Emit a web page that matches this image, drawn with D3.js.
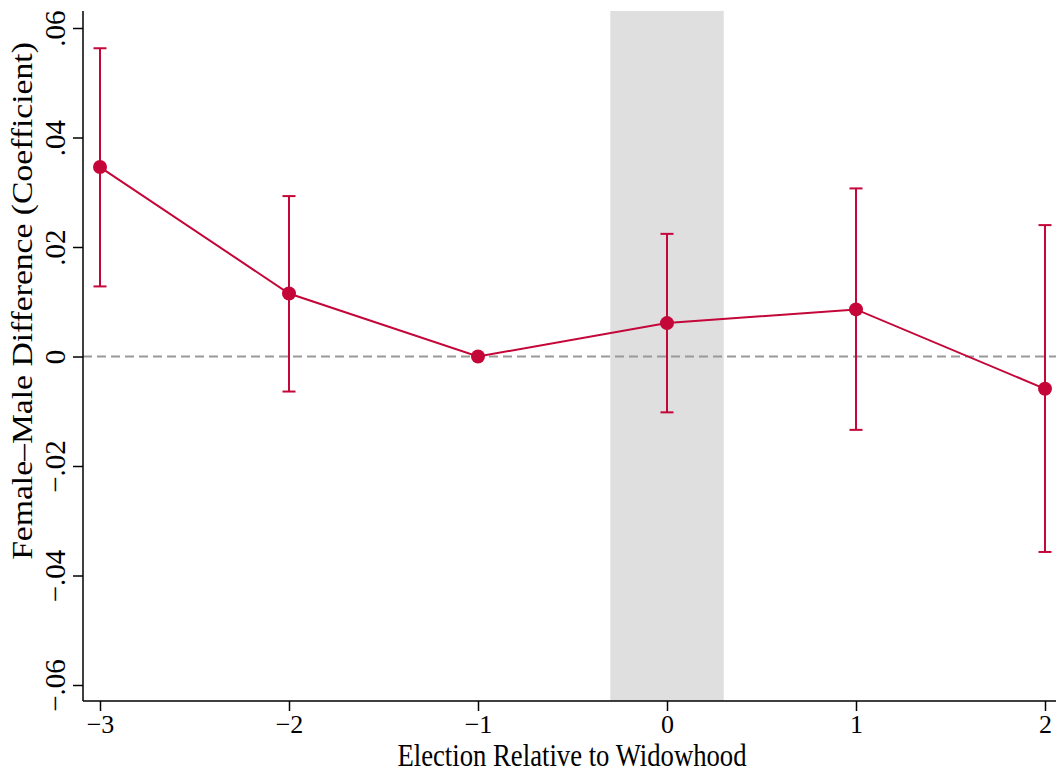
<!DOCTYPE html>
<html>
<head>
<meta charset="utf-8">
<script src="https://cdn.jsdelivr.net/npm/d3@7"></script>
<style>
  html, body { margin: 0; padding: 0; background: #fff; }
  svg { display: block; font-family: "Liberation Serif", "Times New Roman", serif; }
</style>
</head>
<body>
<svg id="chart" width="1056" height="774"></svg>
<script>
// Event-study estimates: election relative to widowhood
const periods   = [-3, -2, -1, 0, 1, 2];
const coef      = [0.0346, 0.0115, 0.0, 0.0061, 0.0086, -0.0059];
const ciLow     = [0.0128, -0.0064, null, -0.0102, -0.0134, -0.0357];
const ciHigh    = [0.0563, 0.0293, null, 0.0224, 0.0307, 0.0240];
const xTicks    = [-3, -2, -1, 0, 1, 2];
const yTicks    = [-0.06, -0.04, -0.02, 0, 0.02, 0.04, 0.06];
const band      = [-0.3, 0.3];

const svg = d3.select("#chart");
const red = "#c40638";

const plot = { left: 83, right: 1056, top: 11, bottom: 701 };
const x = d3.scaleLinear().domain([-3, 2]).range([100, 1045]);
const y = d3.scaleLinear().domain([-0.06, 0.06]).range([685, 28]);

const fmtY = v => {
  if (v === 0) return "0";
  const s = d3.format(".2f")(Math.abs(v)).replace(/^0/, "");
  return (v < 0 ? "\u2212" : "") + s;
};
const fmtX = v => (v < 0 ? "\u2212" : "") + Math.abs(v);

// shaded widowhood window
svg.append("rect")
  .attr("x", x(band[0])).attr("y", plot.top)
  .attr("width", x(band[1]) - x(band[0]))
  .attr("height", plot.bottom - plot.top)
  .attr("fill", "#dfdfdf");

// reference line at zero
svg.append("line")
  .attr("x1", plot.left).attr("x2", plot.right)
  .attr("y1", y(0)).attr("y2", y(0))
  .attr("stroke", "#999").attr("stroke-width", 2)
  .attr("stroke-dasharray", "9,5");

// axes
const xAxis = d3.axisBottom(x).tickValues(xTicks).tickFormat(fmtX).tickSize(10).tickPadding(4);
const gx = svg.append("g").attr("transform", `translate(0,${plot.bottom})`).call(xAxis);
gx.select(".domain").remove();
gx.append("line").attr("x1", plot.left).attr("x2", plot.right).attr("stroke", "#000").attr("stroke-width", 1.5);
gx.selectAll(".tick line").attr("stroke", "#000").attr("stroke-width", 1.5);
gx.selectAll(".tick text").attr("font-size", 26).attr("fill", "#000")
  .attr("font-family", "Liberation Serif");

const yAxis = d3.axisLeft(y).tickValues(yTicks).tickFormat(fmtY).tickSize(10).tickPadding(7);
const gy = svg.append("g").attr("transform", `translate(${plot.left},0)`).call(yAxis);
gy.select(".domain").remove();
gy.append("line").attr("y1", plot.top).attr("y2", plot.bottom).attr("stroke", "#000").attr("stroke-width", 1.5);
gy.selectAll(".tick line").attr("stroke", "#000").attr("stroke-width", 1.5);
gy.selectAll(".tick text")
  .attr("font-size", 29).attr("fill", "#000").attr("font-family", "Liberation Serif")
  .attr("x", null).attr("dy", null)
  .attr("text-anchor", "middle")
  .attr("transform", "translate(-18,0) rotate(-90)");

// confidence intervals
const ci = periods.map((p, i) => ({ p, lo: ciLow[i], hi: ciHigh[i] })).filter(d => d.lo !== null);
const capW = 6.5;
const gci = svg.append("g").attr("stroke", red).attr("stroke-width", 2);
gci.selectAll("line.v").data(ci).join("line")
  .attr("x1", d => x(d.p)).attr("x2", d => x(d.p))
  .attr("y1", d => y(d.lo)).attr("y2", d => y(d.hi));
gci.selectAll("line.lo").data(ci).join("line")
  .attr("x1", d => x(d.p) - capW).attr("x2", d => x(d.p) + capW)
  .attr("y1", d => y(d.lo)).attr("y2", d => y(d.lo));
gci.selectAll("line.hi").data(ci).join("line")
  .attr("x1", d => x(d.p) - capW).attr("x2", d => x(d.p) + capW)
  .attr("y1", d => y(d.hi)).attr("y2", d => y(d.hi));

// connecting line and point estimates
const pts = periods.map((p, i) => ({ p, v: coef[i] }));
svg.append("path").datum(pts)
  .attr("fill", "none").attr("stroke", red).attr("stroke-width", 2)
  .attr("d", d3.line().x(d => x(d.p)).y(d => y(d.v)));
svg.selectAll("circle.pt").data(pts).join("circle")
  .attr("cx", d => x(d.p)).attr("cy", d => y(d.v)).attr("r", 7)
  .attr("fill", red);

// axis titles
svg.append("text")
  .attr("transform", "translate(572,766) scale(1,1.2)")
  .attr("text-anchor", "middle").attr("font-size", 26.7)
  .text("Election Relative to Widowhood");
svg.append("text")
  .attr("transform", "translate(32,301) scale(1,1.18) rotate(-90)")
  .attr("text-anchor", "middle").attr("font-size", 28.5)
  .text("Female\u2013Male Difference (Coefficient)");
</script>
</body>
</html>
